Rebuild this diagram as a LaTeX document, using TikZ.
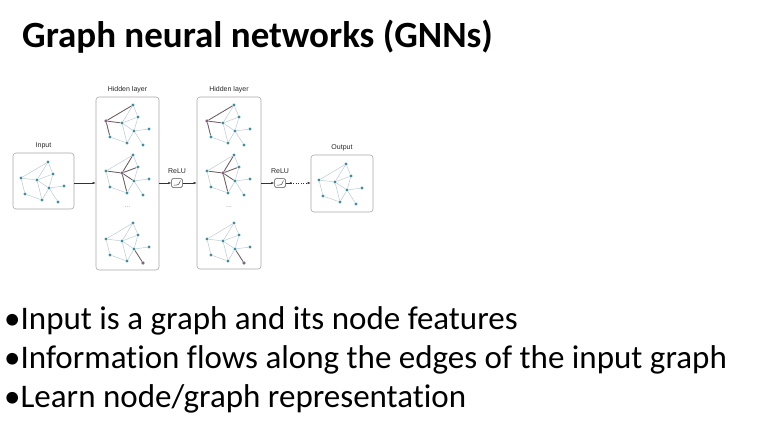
\documentclass[tikz,border=0pt]{standalone}
\usepackage{fontspec}
\setmainfont{Carlito}[Ligatures=NoCommon]
\newfontfamily\diagfont{Liberation Sans}
\usetikzlibrary{arrows.meta,positioning,calc}

\definecolor{gteal}{HTML}{3D8EA0}
\definecolor{gedgec}{HTML}{BCCBD3}
\definecolor{hnode}{HTML}{8B5D7D}
\definecolor{hedgec}{HTML}{6E5A5A}
\definecolor{boxline}{HTML}{A8A8A8}

% one small graph, #1 = name prefix, #2 = top-left corner
\newcommand\gnngraph[2]{%
  \begin{scope}[shift={#2}]
    \foreach \n/\x/\y in {a/35/9,b/40/21,c/8/25,d/24/27,e/36/35,f/51/33,g/12/41,h/29/47,i/45/49}
      \node[gdot] (#1-\n) at (\x,\y) {};
  \end{scope}
  \foreach \u/\v in {a/c,a/b,a/d,b/d,b/e,c/d,c/g,d/e,d/h,e/f,e/i,e/h,g/h}
    \draw[gedge] (#1-\u) -- (#1-\v);
}

\begin{document}
\begin{tikzpicture}[x=1pt,y=-1pt,
  gdot/.style={circle,fill=gteal,inner sep=0pt,minimum size=3.2pt},
  hdot/.style={circle,fill=hnode,inner sep=0pt,minimum size=3.4pt},
  gedge/.style={gedgec,line width=0.5pt},
  hedge/.style={hedgec,line width=0.8pt},
  layerbox/.style={draw=boxline,line width=0.6pt,rounded corners=3pt,inner sep=0pt},
  relubox/.style={draw=black!70,line width=0.5pt,rounded corners=1.5pt,inner sep=0pt,minimum width=11pt,minimum height=9pt},
  lab/.style={font=\diagfont\fontsize{7}{8}\selectfont,text=black!85,inner sep=0pt},
  flow/.style={-{Latex[length=3pt,width=2.4pt]},line width=0.5pt,black!80},
  bullet/.style={anchor=base west,inner sep=0pt,font=\fontsize{33}{40}\selectfont}]
  \useasboundingbox (0,0) rectangle (770,439);

  \node[anchor=base west,font=\fontsize{37}{44}\selectfont\bfseries,inner sep=0pt] (title) at (22,47) {Graph neural networks (GNNs)};

  % boxes
  \node[layerbox,minimum width=61pt,minimum height=56pt] (inp) at (43.5,181) {};
  \node[layerbox,minimum width=63pt,minimum height=173pt] (hid1) at (127.5,183.5) {};
  \node[layerbox,minimum width=64pt,minimum height=172pt] (hid2) at (229,183) {};
  \node[layerbox,minimum width=62pt,minimum height=57pt] (out) at (342,183.5) {};
  \node[relubox] (relu1) at (177,183) {};
  \node[relubox] (relu2) at (280,183) {};

  \node[lab,above=4pt of inp] {Input};
  \node[lab,above=4pt of hid1] {Hidden layer};
  \node[lab,above=4pt of hid2] {Hidden layer};
  \node[lab,above=4pt of out] {Output};
  \node[lab,above=4pt of relu1] {ReLU};
  \node[lab,above=4pt of relu2] {ReLU};

  % relu curves
  \foreach \r in {relu1,relu2}
    \draw[black!70,line width=0.5pt] ([shift={(-3.5,2)}]\r.center) -- ([shift={(-0.5,2)}]\r.center)
      .. controls ([shift={(1.5,2)}]\r.center) .. ([shift={(3.5,-2.5)}]\r.center);

  % graphs
  \gnngraph{inp}{(13,153)}
  \gnngraph{ha}{(98,96)}
  \gnngraph{hb}{(98,146)}
  \gnngraph{hc}{(98,214)}
  \gnngraph{hd}{(199,96)}
  \gnngraph{he}{(199,146)}
  \gnngraph{hf}{(199,214)}
  \gnngraph{outg}{(311,155)}

  \foreach \g in {ha,hd}{
    \foreach \v in {a,d,g} \draw[hedge] (\g-c) -- (\g-\v);
    \node[hdot] at (\g-c) {};
  }
  \foreach \g in {hb,he}{
    \foreach \v in {a,b,c,e,h} \draw[hedge] (\g-d) -- (\g-\v);
    \node[hdot] at (\g-d) {};
  }
  \foreach \g in {hc,hf}{
    \draw[hedge] (\g-i) -- (\g-e);
    \node[hdot] at (\g-i) {};
  }

  \node[lab,text=black!40] (dots1) at (127.5,207) {...};
  \node[lab,text=black!40] (dots2) at (229,207) {...};

  % connectors
  \draw[flow] (inp.east |- relu1) -- (hid1.west |- relu1);
  \draw[flow] (hid1.east |- relu1) -- (relu1);
  \draw[flow] (relu1) -- (hid2.west |- relu1);
  \draw[flow] (hid2.east |- relu2) -- (relu2);
  \coordinate[right=5pt of relu2] (r2dot);
  \draw[line width=0.5pt,black!80] (relu2) -- (r2dot);
  \fill[black!80] (r2dot) circle (1pt);
  \draw[flow,dotted] (r2dot) -- (out.west |- relu2);

  % bullet points
  \node[bullet] (pt1) at (4,329) {•Input is a graph and its node features};
  \node[bullet] (pt2) at (4,368) {•Information flows along the edges of the input graph};
  \node[bullet] (pt3) at (4,407) {•Learn node/graph representation};
\end{tikzpicture}
\end{document}
